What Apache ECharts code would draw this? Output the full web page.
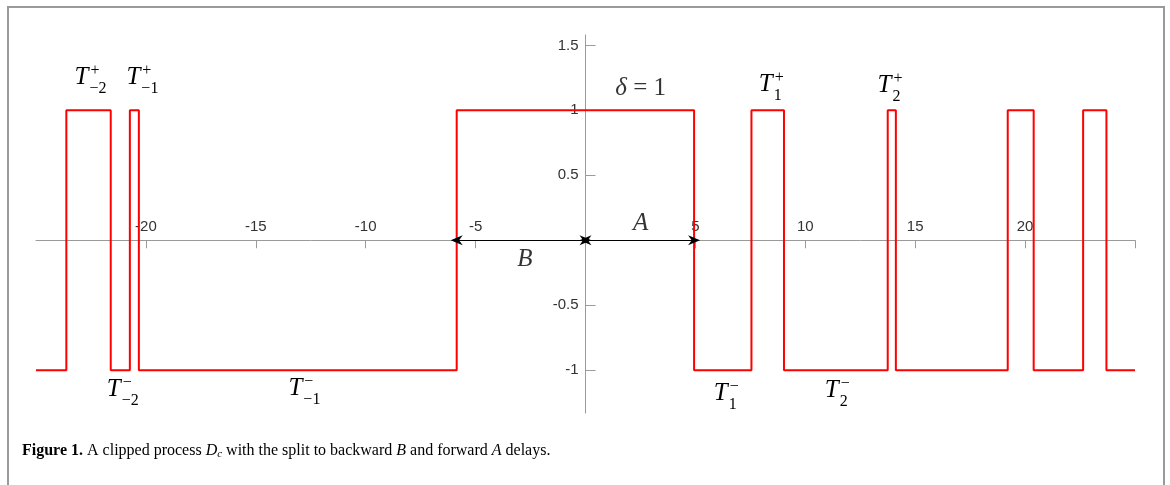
<!DOCTYPE html>
<html>
<head>
<meta charset="utf-8">
<script src="https://cdn.jsdelivr.net/npm/echarts@6/dist/echarts.min.js"></script>
<style>
  html, body { margin: 0; padding: 0; background: #fff; }
  #main { width: 1170px; height: 485px; }
</style>
</head>
<body>
<div id="main"></div>
<script>
// switching times of the clipped process and the level held from each time on
var times = [-25, -23.62, -21.6, -20.73, -20.32, -5.86, 4.94, 7.55, 9.03, 13.75, 14.12, 19.21, 20.39, 22.64, 23.70, 25];
var levels = [-1, 1, -1, 1, -1, 1, -1, 1, -1, 1, -1, 1, -1, 1, -1, -1];

// axis range and tick labels
var xRange = [-25, 25];
var yRange = [-1.33, 1.58];
var xTickLabels = [-20, -15, -10, -5, 5, 10, 15, 20];
var xTickMarks = [-20, -15, -10, -5, 0, 5, 10, 15, 20, 25];
var yTickLabels = [-1, -0.5, 0.5, 1, 1.5];
var yTickMarks = [-1, -0.5, 0, 0.5, 1, 1.5];

// backward / forward delay arrows
var arrowB = [-5.86, 0];
var arrowA = [0, 4.94];

// T labels (x, y of the T, superscript, subscript)
var tX = [-22.93, -20.57, 8.2, 13.6, -21.46, -13.2, 6.15, 11.2];
var tY = [1.25, 1.25, 1.2, 1.19, -1.15, -1.14, -1.18, -1.16];
var tSup = ['+', '+', '+', '+', '\u2212', '\u2212', '\u2212', '\u2212'];
var tSub = ['\u22122', '\u22121', '1', '2', '\u22122', '\u22121', '1', '2'];

// other text labels
var textLabels = [
    { name: 'delta', value: [2.51, 1.17] },
    { name: 'A', value: [2.51, 0.13] },
    { name: 'B', value: [-2.76, -0.15] }
];

var serif = '"Liberation Serif", "DejaVu Serif", serif';
var sans = '"Liberation Sans", Arial, sans-serif';
var axisGray = '#9a9a9a';
var arrowHead = 'path://M5,0 L10,10 L5,7 L0,10 Z';

var myChart = echarts.init(document.getElementById('main'), null, { renderer: 'canvas' });

var signal = times.map(function (t, i) { return [t, levels[i]]; });
var tData = tX.map(function (x, i) { return [x, tY[i]]; });

var option = {
    animation: false,
    backgroundColor: '#fff',
    grid: {
        left: 36,
        right: 35,
        top: 35,
        bottom: 72,
        containLabel: false,
        outerBoundsMode: 'none'
    },
    xAxis: {
        type: 'value',
        min: xRange[0],
        max: xRange[1],
        offset: 0,
        axisLine: { onZero: false, lineStyle: { color: axisGray, width: 1 } },
        axisTick: {
            show: true,
            inside: false,
            length: 8,
            customValues: xTickMarks,
            lineStyle: { color: axisGray }
        },
        axisLabel: {
            inside: true,
            margin: 6,
            customValues: xTickLabels,
            color: '#333',
            fontSize: 15,
            fontFamily: sans
        },
        splitLine: { show: false }
    },
    yAxis: {
        type: 'value',
        min: yRange[0],
        max: yRange[1],
        offset: 0,
        axisLine: { show: true, onZero: false, lineStyle: { color: axisGray, width: 1 } },
        axisTick: {
            show: true,
            inside: true,
            length: 10,
            customValues: yTickMarks,
            lineStyle: { color: axisGray }
        },
        axisLabel: {
            inside: false,
            margin: 7,
            customValues: yTickLabels,
            color: '#333',
            fontSize: 15,
            fontFamily: sans
        },
        splitLine: { show: false }
    },
    series: [
        {
            name: 'Dc',
            type: 'line',
            step: 'end',
            data: signal,
            showSymbol: false,
            symbol: 'none',
            lineStyle: { color: '#ff0000', width: 2 },
            z: 3,
            markLine: {
                silent: true,
                symbol: [arrowHead, arrowHead],
                symbolSize: [10, 12],
                label: { show: false },
                lineStyle: { color: '#000', width: 1.2, type: 'solid' },
                emphasis: { disabled: true },
                data: [
                    [{ coord: [arrowB[0], 0] }, { coord: [arrowB[1], 0] }],
                    [{ coord: [arrowA[0], 0] }, { coord: [arrowA[1], 0] }]
                ]
            }
        },
        {
            name: 'T labels',
            type: 'custom',
            data: tData,
            silent: true,
            z: 4,
            renderItem: function (params, api) {
                var p = api.coord([api.value(0), api.value(1)]);
                var i = params.dataIndex;
                return {
                    type: 'group',
                    children: [
                        {
                            type: 'text',
                            x: p[0],
                            y: p[1],
                            style: {
                                text: 'T',
                                fontFamily: serif,
                                fontStyle: 'italic',
                                fontSize: 25,
                                fill: '#000',
                                align: 'center',
                                verticalAlign: 'middle'
                            }
                        },
                        {
                            type: 'text',
                            x: p[0] + 9,
                            y: p[1] - 7,
                            style: {
                                text: tSup[i],
                                fontFamily: serif,
                                fontSize: 16,
                                fill: '#000',
                                align: 'left',
                                verticalAlign: 'middle'
                            }
                        },
                        {
                            type: 'text',
                            x: p[0] + 8,
                            y: p[1] + 11,
                            style: {
                                text: tSub[i],
                                fontFamily: serif,
                                fontSize: 16,
                                fill: '#000',
                                align: 'left',
                                verticalAlign: 'middle'
                            }
                        }
                    ]
                };
            }
        },
        {
            name: 'text',
            type: 'scatter',
            data: textLabels,
            symbolSize: 0,
            silent: true,
            z: 4,
            label: {
                show: true,
                position: 'inside',
                color: '#000',
                formatter: function (p) {
                    if (p.name === 'delta') return '{i|\u03b4}{n| = 1}';
                    return '{i|' + p.name + '}';
                },
                rich: {
                    i: { fontFamily: serif, fontStyle: 'italic', fontSize: 25, color: '#000' },
                    n: { fontFamily: serif, fontSize: 25, color: '#000' }
                }
            }
        }
    ],
    graphic: [
        {
            type: 'rect',
            silent: true,
            shape: { x: 8, y: 7, width: 1156, height: 520 },
            style: { fill: 'none', stroke: axisGray, lineWidth: 2 }
        },
        {
            type: 'text',
            left: 22,
            top: 443,
            silent: true,
            style: {
                text: '{b|Figure 1.} A clipped process {i|D}{s|c} with the split to backward {i|B} and forward {i|A} delays.',
                fontFamily: serif,
                fontSize: 16,
                fill: '#000',
                rich: {
                    b: { fontFamily: serif, fontWeight: 'bold', fontSize: 16 },
                    i: { fontFamily: serif, fontStyle: 'italic', fontSize: 16 },
                    s: { fontFamily: serif, fontStyle: 'italic', fontSize: 11, verticalAlign: 'bottom', padding: [6, 0, 0, 0] }
                }
            }
        }
    ]
};

myChart.setOption(option);

// move both axes (line, ticks and labels) onto the zero lines
var origin = myChart.convertToPixel({ gridIndex: 0 }, [0, 0]);
var corner = myChart.convertToPixel({ gridIndex: 0 }, [xRange[0], yRange[0]]);
myChart.setOption({
    xAxis: { offset: -(corner[1] - origin[1]) },
    yAxis: { offset: -(origin[0] - corner[0]) }
});
</script>
</body>
</html>
